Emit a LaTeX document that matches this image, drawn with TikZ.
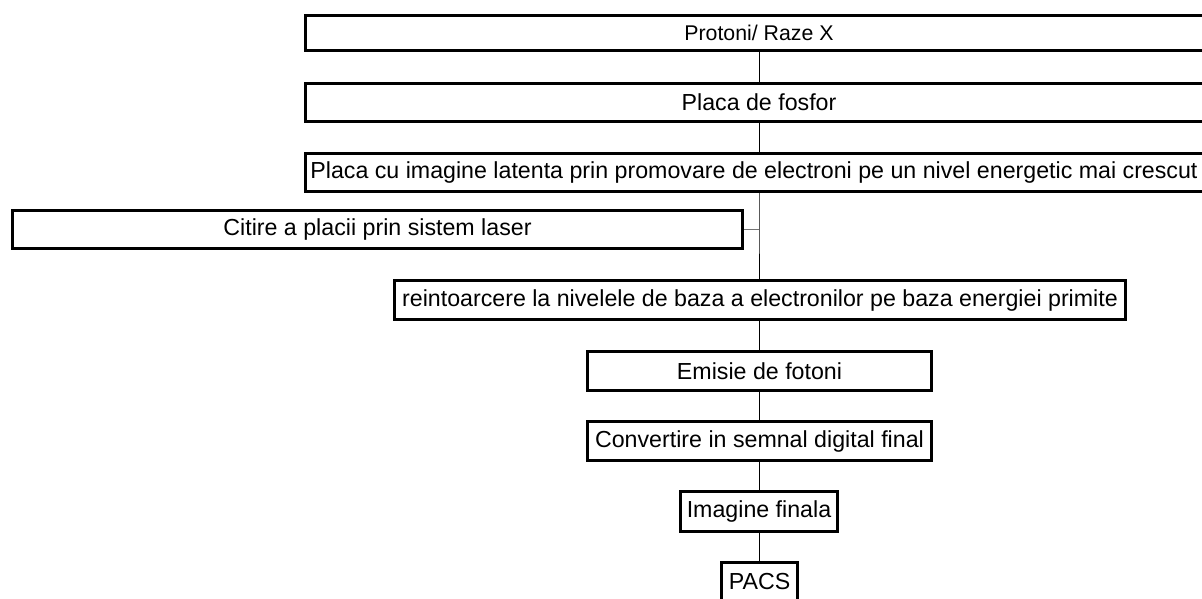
\documentclass[tikz,border=0pt]{standalone}
\usepackage{fontspec}
\setmainfont{Liberation Sans}
\begin{document}
\begin{tikzpicture}[x=1pt,y=1pt,
  box/.style={draw=black, line width=3pt, fill=white, inner sep=0pt,
    font=\fontsize{23.2}{27}\selectfont},
  link/.style={draw=black, line width=1pt},
  sidelink/.style={draw=black!55, line width=1.2pt}]
\useasboundingbox (0,0) rectangle (1202,-598);
\node[box, minimum width=907pt, minimum height=35.2pt, font=\fontsize{21.3}{24}\selectfont] (p1) at (759,-33) {Protoni/ Raze X};
\node[box, minimum width=907pt, minimum height=38.2pt] (p2) at (759,-102.5) {Placa de fosfor};
\node[box, minimum width=907pt, minimum height=38.2pt] (p3) at (759,-172.5) {\hspace*{-10pt}Placa cu imagine latenta prin promovare de electroni pe un nivel energetic mai crescut};
\node[box, minimum width=730pt, minimum height=38.2pt] (p4) at (377.5,-229.5) {Citire a placii prin sistem laser};
\node[box, minimum width=731pt, minimum height=39pt] (p5) at (760,-300) {reintoarcere la nivelele de baza a electronilor pe baza energiei primite};
\node[box, minimum width=344pt, minimum height=39pt] (p6) at (759.5,-371) {Emisie de fotoni};
\node[box, minimum width=344pt, minimum height=39pt] (p7) at (759.5,-441) {Convertire in semnal digital final};
\node[box, minimum width=157pt, minimum height=40pt] (p8) at (759,-511.5) {Imagine finala};
\node[box, minimum width=76pt, minimum height=39pt] (p9) at (759.5,-582) {PACS};
\coordinate (j) at (p3.south |- p4.east);
\draw[link] (p1.south) -- (p2.north);
\draw[link] (p2.south) -- (p3.north);
\draw[link] (p3.south) -- (j) -- (j |- p5.north);
\draw[sidelink] (p4.east) -- (j);
\draw[link] (p5.south -| j) -- (p6.north -| j);
\draw[link] (p6.south -| j) -- (p7.north -| j);
\draw[link] (p7.south -| j) -- (p8.north -| j);
\draw[link] (p8.south -| j) -- (p9.north -| j);
\end{tikzpicture}
\end{document}
